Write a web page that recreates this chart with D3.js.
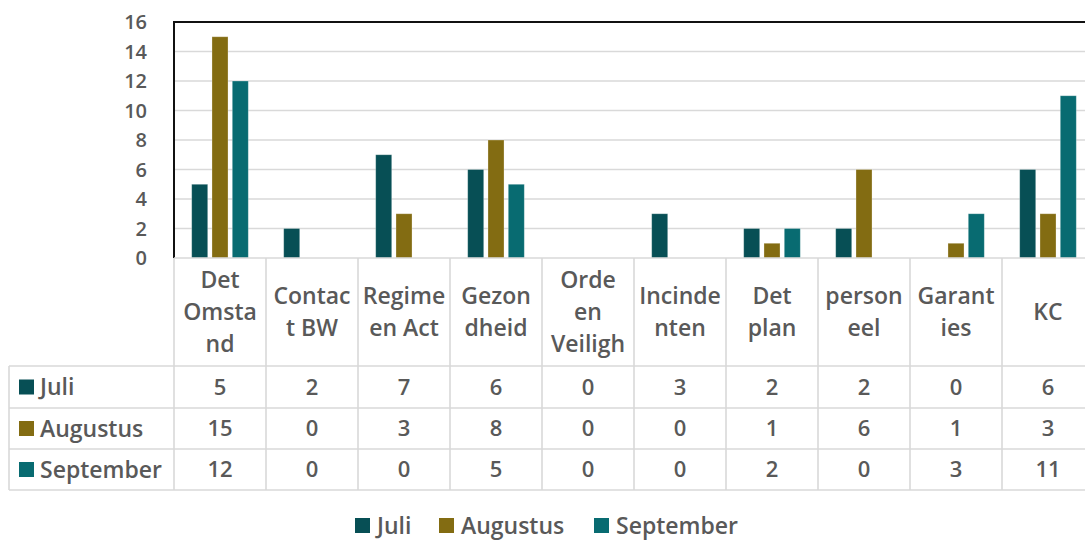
<!DOCTYPE html>
<html>
<head>
<meta charset="utf-8">
<script src="https://cdn.jsdelivr.net/npm/d3@7"></script>
<style>
  body { margin: 0; background: #fff; overflow: hidden; }
  svg { display: block; font-family: 'Open Sans', sans-serif; }
</style>
</head>
<body>
<svg id="chart" width="1085" height="540"></svg>
<script>
// category labels, already split the way the table header wraps them
const categories = [
  ['Det', 'Omsta', 'nd'],
  ['Contac', 't BW'],
  ['Regime', 'en Act'],
  ['Gezon', 'dheid'],
  ['Orde', 'en', 'Veiligh'],
  ['Incinde', 'nten'],
  ['Det', 'plan'],
  ['person', 'eel'],
  ['Garant', 'ies'],
  ['KC']
];
const seriesNames = ['Juli', 'Augustus', 'September'];
const juli = [5, 2, 7, 6, 0, 3, 2, 2, 0, 6];
const augustus = [15, 0, 3, 8, 0, 0, 1, 6, 1, 3];
const september = [12, 0, 0, 5, 0, 0, 2, 0, 3, 11];
const yTicks = [0, 2, 4, 6, 8, 10, 12, 14, 16];
const colors = ['#074f55', '#836c12', '#086b71'];

const values = [juli, augustus, september];
const textColor = '#595959';
const gridColor = '#d9d9d9';

const svg = d3.select('#chart');

const plotLeft = 174;
const bandW = 92;
const plotTop = 22;
const plotBottom = 258;
const tableLeft = 9;
const rowEdges = [366, 408, 449, 490];

const x = d3.scaleBand()
  .domain(d3.range(categories.length))
  .range([plotLeft, plotLeft + bandW * categories.length])
  .padding(0);

const xInner = d3.scaleBand()
  .domain(d3.range(seriesNames.length))
  .range([17.7, 74.3])
  .paddingInner(0.21);

const y = d3.scaleLinear()
  .domain([0, 16])
  .range([plotBottom, plotTop]);

const right = x.range()[1];

// gridlines
svg.append('g')
  .selectAll('line')
  .data(yTicks.filter(d => d > 0 && d < 16))
  .enter().append('line')
    .attr('x1', plotLeft).attr('x2', right)
    .attr('y1', d => y(d)).attr('y2', d => y(d))
    .attr('stroke', gridColor)
    .attr('stroke-width', 1.5);

// bars
const groups = svg.append('g')
  .selectAll('g')
  .data(categories.map((c, i) => i))
  .enter().append('g')
    .attr('transform', i => `translate(${x(i)},0)`);

groups.selectAll('rect')
  .data(i => values.map((s, k) => ({ k, v: s[i] })).filter(d => d.v > 0))
  .enter().append('rect')
    .attr('x', d => xInner(d.k))
    .attr('width', xInner.bandwidth())
    .attr('y', d => y(d.v))
    .attr('height', d => y(0) - y(d.v))
    .attr('fill', d => colors[d.k])
    .attr('stroke', '#ffffff')
    .attr('stroke-opacity', 0.35)
    .attr('stroke-width', 0.8);

// y tick labels
svg.append('g')
  .selectAll('text')
  .data(yTicks)
  .enter().append('text')
    .attr('x', 147)
    .attr('y', d => y(d))
    .attr('dy', '0.36em')
    .attr('text-anchor', 'end')
    .attr('fill', textColor)
    .attr('font-size', 20)
    .attr('font-weight', 600)
    .text(d => d);

// plot border (top + left)
svg.append('path')
  .attr('d', `M${plotLeft},${plotBottom}V${plotTop}H${right}`)
  .attr('fill', 'none')
  .attr('stroke', '#111')
  .attr('stroke-width', 2);

// data table borders
const tbl = svg.append('g')
  .attr('stroke', gridColor)
  .attr('stroke-width', 1.6)
  .attr('fill', 'none');

tbl.append('line')
  .attr('x1', plotLeft).attr('x2', right)
  .attr('y1', plotBottom).attr('y2', plotBottom);

rowEdges.forEach((ry) => {
  tbl.append('line')
    .attr('x1', tableLeft).attr('x2', right)
    .attr('y1', ry).attr('y2', ry);
});

d3.range(categories.length + 1).forEach((i) => {
  tbl.append('line')
    .attr('x1', plotLeft + i * bandW).attr('x2', plotLeft + i * bandW)
    .attr('y1', plotBottom).attr('y2', rowEdges[3]);
});
tbl.append('line')
  .attr('x1', tableLeft).attr('x2', tableLeft)
  .attr('y1', rowEdges[0]).attr('y2', rowEdges[3]);

// header labels
const headerMid = (plotBottom + rowEdges[0]) / 2;
const lineH = 32;
const header = svg.append('g')
  .attr('fill', textColor)
  .attr('font-size', 23)
  .attr('font-weight', 600)
  .attr('text-anchor', 'middle');

categories.forEach((lines, i) => {
  const t = header.append('text')
    .attr('x', x(i) + bandW / 2)
    .attr('y', headerMid - (lines.length - 1) * lineH / 2);
  lines.forEach((ln, j) => {
    t.append('tspan')
      .attr('x', x(i) + bandW / 2)
      .attr('dy', j === 0 ? '0.36em' : lineH)
      .text(ln);
  });
});

// table rows
seriesNames.forEach((name, k) => {
  const mid = (rowEdges[k] + rowEdges[k + 1]) / 2;
  svg.append('rect')
    .attr('x', 19).attr('y', mid - 7.5)
    .attr('width', 15).attr('height', 15)
    .attr('fill', colors[k]);
  svg.append('text')
    .attr('x', 40).attr('y', mid)
    .attr('dy', '0.36em')
    .attr('fill', textColor)
    .attr('font-size', 23)
    .attr('font-weight', 600)
    .text(name);
  svg.append('g')
    .selectAll('text')
    .data(values[k])
    .enter().append('text')
      .attr('x', (d, i) => x(i) + bandW / 2)
      .attr('y', mid)
      .attr('dy', '0.36em')
      .attr('text-anchor', 'middle')
      .attr('fill', textColor)
      .attr('font-size', 22)
      .attr('font-weight', 600)
      .text(d => d);
});

// bottom legend
const legendX = [355, 439, 594];
const legend = svg.append('g')
  .selectAll('g')
  .data(seriesNames)
  .enter().append('g')
    .attr('transform', (d, i) => `translate(${legendX[i]},518)`);

legend.append('rect')
  .attr('width', 15).attr('height', 15)
  .attr('fill', (d, i) => colors[i]);

legend.append('text')
  .attr('x', 22).attr('y', 7.5)
  .attr('dy', '0.36em')
  .attr('fill', textColor)
  .attr('font-size', 23)
  .attr('font-weight', 600)
  .text(d => d);
</script>
</body>
</html>
